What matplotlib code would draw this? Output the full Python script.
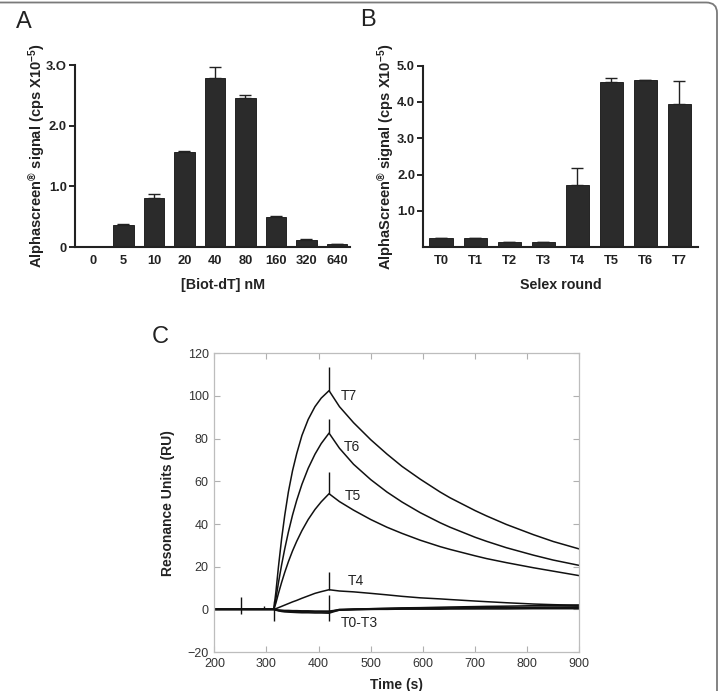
import numpy as np
import matplotlib

matplotlib.use("Agg")
import matplotlib.pyplot as plt
from matplotlib.patches import FancyBboxPatch

plt.rcParams["font.family"] = ["Liberation Sans", "DejaVu Sans"]
plt.rcParams["mathtext.fontset"] = "custom"
plt.rcParams["mathtext.rm"] = "Liberation Sans:bold"
plt.rcParams["mathtext.bf"] = "Liberation Sans:bold"
plt.rcParams["mathtext.default"] = "bf"

# Panel A: signal vs Biot-dT concentration
conc_labels = ["0", "5", "10", "20", "40", "80", "160", "320", "640"]
conc_signal = [0.005, 0.37, 0.80, 1.57, 2.78, 2.46, 0.49, 0.12, 0.05]
conc_err = [0.0, 0.01, 0.08, 0.015, 0.18, 0.04, 0.02, 0.01, 0.0]

# Panel B: signal per Selex round
round_labels = ["T0", "T1", "T2", "T3", "T4", "T5", "T6", "T7"]
round_signal = [0.24, 0.25, 0.13, 0.14, 1.70, 4.56, 4.60, 3.94]
round_err = [0.0, 0.0, 0.0, 0.0, 0.47, 0.09, 0.0, 0.65]

# Panel C: sensorgrams (RU vs time)
time_s = [200, 250, 300, 314, 318, 323, 329, 335, 342, 350, 358, 368, 380, 393,
          405, 420, 440, 467, 500, 531, 560, 595, 633, 652, 700, 722, 760, 812,
          850, 900]
ru_t7 = [0, 0, 0, 0, 8, 20, 33, 44, 55, 65, 73, 81.5, 89, 95,
         99, 102.5, 95, 87.5, 79.5, 72.8, 67, 61, 55, 52.3, 46.3, 43.8, 39.8, 35,
         31.8, 28.3]
ru_t6 = [0, 0, 0, 0, 4.9, 12.5, 20.8, 28.3, 36.2, 44.2, 51.1, 58.6, 66.1, 72.7,
         77.7, 82.6, 75.5, 68, 60.8, 55, 50.3, 45.3, 40.6, 38.5, 33.8, 31.9, 28.9, 25.4,
         23.1, 20.6]
ru_t5 = [0, 0, 0, 0, 2.9, 7.5, 12.6, 17.3, 22.3, 27.4, 31.9, 36.9, 42.1, 46.8,
         50.4, 54.2, 50.5, 46.5, 42.1, 38.5, 35.6, 32.4, 29.4, 28.1, 25.1, 23.8, 21.9, 19.5,
         17.9, 15.8]
ru_t4 = [0, 0, 0, 0, 0.3, 0.8, 1.4, 2.0, 2.7, 3.5, 4.2, 5.2, 6.3, 7.5,
         8.3, 9.2, 8.6, 8.2, 7.5, 6.8, 6.1, 5.4, 4.9, 4.6, 3.9, 3.6, 3.1, 2.5,
         2.2, 1.9]
ru_t0 = [0, 0, 0, 0, -0.3, -0.5, -0.7, -0.8, -0.9, -1.0, -1.0, -1.1, -1.1, -1.2,
         -1.2, -1.2, 0.0, 0.2, 0.3, 0.4, 0.5, 0.6, 0.7, 0.7, 0.8, 0.9, 0.9, 1.0,
         1.1, 1.2]
ru_t1 = [0, 0, 0, 0, -0.4, -0.7, -1.0, -1.2, -1.3, -1.4, -1.5, -1.6, -1.6, -1.7,
         -1.7, -1.8, -0.3, 0.0, 0.3, 0.5, 0.7, 0.8, 1.0, 1.1, 1.3, 1.4, 1.5, 1.7,
         1.8, 2.0]
ru_t2 = [0, 0, 0, 0, -0.2, -0.3, -0.4, -0.5, -0.5, -0.6, -0.6, -0.7, -0.7, -0.8,
         -0.8, -0.8, -0.2, -0.1, 0.0, 0.0, 0.1, 0.1, 0.1, 0.2, 0.2, 0.2, 0.2, 0.3,
         0.3, 0.3]
ru_t3 = [0, 0, 0, 0, -0.3, -0.5, -0.6, -0.7, -0.8, -0.9, -0.9, -1.0, -1.0, -1.1,
         -1.1, -1.2, -0.4, -0.2, 0.0, 0.1, 0.2, 0.3, 0.4, 0.4, 0.5, 0.6, 0.6, 0.7,
         0.7, 0.8]
sensorgrams = [ru_t7, ru_t6, ru_t5, ru_t4, ru_t0, ru_t1, ru_t2, ru_t3]

# injection artefacts (vertical spikes)
spike_t = [252, 295, 315, 420, 420, 420, 420, 420]
spike_lo = [-2.0, 0.0, -5.6, 102.5, 82.6, 54.2, 9.2, -5.6]
spike_hi = [5.6, 1.5, 3.7, 113.5, 89.0, 64.5, 17.5, 6.9]

curve_names = ["T7", "T6", "T5", "T4", "T0-T3"]
name_t = [458, 463, 465, 471, 478]
name_ru = [100, 76, 53, 13.4, -6.4]

bar_color = "#2b2b2b"
txt = "#222222"

fig = plt.figure(figsize=(7.19, 6.91), dpi=100)


def bar_panel(ax, labels, vals, errs, xlim, ylim, yticks, yticklabels, ylabel, xlabel,
              xlabel_x):
    x = np.arange(len(labels))
    ax.bar(x, vals, width=0.68, color=bar_color, edgecolor="#111111", linewidth=0.6,
           zorder=2)
    ax.errorbar(x, vals, yerr=[np.zeros(len(errs)), errs], fmt="none",
                ecolor="#222222", elinewidth=1.0, capsize=4, capthick=1.0, zorder=3)
    ax.set_xlim(*xlim)
    ax.set_ylim(*ylim)
    ax.set_xticks(x)
    ax.set_xticklabels(labels, fontsize=9.3, fontweight="bold", color=txt)
    ax.set_yticks(yticks)
    ax.set_yticklabels(yticklabels, fontsize=9.3, fontweight="bold", color=txt)
    ax.tick_params(axis="x", length=0, pad=6)
    ax.tick_params(axis="y", length=4, width=1.2, direction="out", pad=2)
    for s in ["top", "right"]:
        ax.spines[s].set_visible(False)
    for s in ["left", "bottom"]:
        ax.spines[s].set_linewidth(1.5)
        ax.spines[s].set_color("#222222")
    ax.set_ylabel(ylabel, fontsize=10.5, fontweight="bold", color=txt)
    ax.yaxis.set_label_coords(-0.10, 0.5)
    ax.set_xlabel(xlabel, fontsize=10.3, fontweight="bold", color=txt)
    ax.xaxis.set_label_coords(xlabel_x, -0.17)


axA = fig.add_axes([0.1043, 0.6425, 0.3825, 0.2634])
bar_panel(axA, conc_labels, conc_signal, conc_err, (-0.59, 8.43), (0, 3.0),
          [0, 1, 2, 3], ["0", "1.0", "2.0", "3.O"],
          r"Alphascreen$^{®}$ signal (cps X10$^{-5}$)", "[Biot-dT] nM", 0.54)

axB = fig.add_axes([0.5888, 0.6425, 0.3825, 0.2624])
bar_panel(axB, round_labels, round_signal, round_err, (-0.52, 7.56), (0, 5.0),
          [1, 2, 3, 4, 5], ["1.0", "2.0", "3.0", "4.0", "5.0"],
          r"AlphaScreen$^{®}$ signal (cps X10$^{-5}$)", "Selex round", 0.5)

axC = fig.add_axes([0.2981, 0.0564, 0.5076, 0.4323])
for ru in sensorgrams:
    axC.plot(time_s, ru, color="#111111", linewidth=1.1)
axC.vlines(spike_t, spike_lo, spike_hi, color="#111111", linewidth=1.0)
for name, tx, ty in zip(curve_names, name_t, name_ru):
    axC.text(tx, ty, name, fontsize=10, color="#222222", ha="center", va="center")
axC.set_xlim(200, 900)
axC.set_ylim(-20, 120)
axC.set_xticks(range(200, 901, 100))
axC.set_yticks(range(-20, 121, 20))
axC.tick_params(direction="in", length=4, width=0.8, color="#b0b0b0",
                top=True, right=True, labelsize=9, labelcolor="#333333", pad=4)
for s in axC.spines.values():
    s.set_color("#bdbdbd")
    s.set_linewidth(0.9)
axC.set_ylabel("Resonance Units (RU)", fontsize=10, fontweight="bold", color=txt)
axC.yaxis.set_label_coords(-0.108, 0.5)
axC.set_xlabel("Time (s)", fontsize=10, fontweight="bold", color=txt)
axC.xaxis.set_label_coords(0.5, -0.088)

# panel letters
fig.text(24 / 719, 1 - 22 / 691, "A", fontsize=17, ha="center", va="center", color=txt)
fig.text(368 / 719, 1 - 20 / 691, "B", fontsize=17, ha="center", va="center", color=txt)
fig.text(160 / 719, 1 - 337 / 691, "C", fontsize=17, ha="center", va="center", color=txt)

# outer frame (only top and right edges visible)
frame = FancyBboxPatch((-0.05, -0.05), 0.05 + 717 / 719, 0.05 + 1 - 2.5 / 691,
                       boxstyle="round,pad=0,rounding_size=0.015",
                       transform=fig.transFigure, fill=False,
                       edgecolor="#7a7a7a", linewidth=1.3, clip_on=False)
fig.patches.append(frame)

fig.savefig("out.png", dpi=100)
